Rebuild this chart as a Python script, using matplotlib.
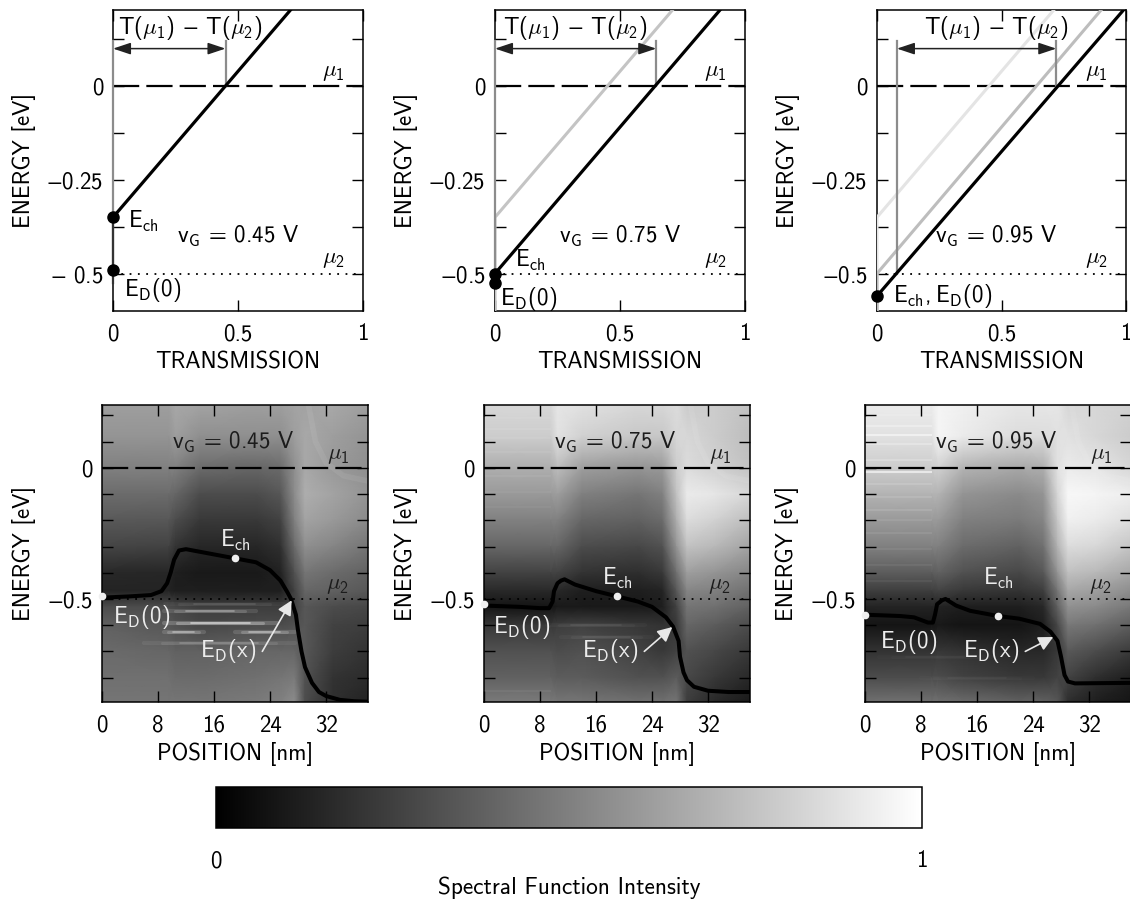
import numpy as np
import matplotlib
matplotlib.use('Agg')
import matplotlib.pyplot as plt
from matplotlib.cm import ScalarMappable
from matplotlib.colors import Normalize

plt.rcParams['font.family'] = ['cmss10', 'DejaVu Sans']
plt.rcParams['mathtext.fontset'] = 'cm'
plt.rcParams['mathtext.default'] = 'regular'
plt.rcParams['axes.unicode_minus'] = False

W, H = 1130, 899
FS = 16.5

# top row: transmission lines
e_top = 0.203
ech = [-0.35, -0.50, -0.56]
ed0 = [-0.49, -0.525, -0.56]
t_mu1 = [0.45, 0.645, 0.72]
t_mu2 = [0.0, 0.0, 0.08]
t_top = [0.71, 0.90, 0.99]
faded_ech = [[], [-0.35], [-0.35, -0.50]]
faded_top = [[], [0.71], [0.71, 0.90]]
faded_col = [[], ['#c4c4c4'], ['#e4e4e4', '#bdbdbd']]
vg_text = ['0.45', '0.75', '0.95']

# bottom row: spectral function, grey levels read by eye
grid_x = [0, 9.5, 10.5, 14, 22, 25.5, 27.5, 29, 33, 38]
grid_e = [0.24, 0.12, 0, -0.1, -0.2, -0.3, -0.4, -0.47, -0.53, -0.6, -0.7, -0.8, -0.893]
grey_045 = [[.62, .62, .66, .64, .62, .62, .64, .64, .66, .62],
            [.58, .58, .62, .56, .56, .56, .62, .66, .62, .58],
            [.50, .50, .50, .42, .40, .42, .56, .66, .60, .56],
            [.42, .42, .40, .30, .30, .34, .55, .68, .64, .58],
            [.35, .34, .30, .22, .22, .26, .50, .64, .60, .54],
            [.27, .26, .20, .15, .15, .19, .42, .56, .52, .46],
            [.16, .15, .12, .10, .10, .13, .32, .46, .42, .38],
            [.14, .14, .12, .12, .12, .12, .26, .40, .38, .34],
            [.30, .30, .28, .24, .24, .24, .26, .34, .30, .28],
            [.38, .34, .32, .28, .30, .30, .32, .34, .26, .24],
            [.42, .40, .38, .38, .40, .40, .40, .34, .24, .20],
            [.44, .44, .42, .42, .44, .46, .48, .32, .20, .17],
            [.46, .46, .46, .46, .48, .50, .55, .30, .18, .14]]
grey_075 = [[.84, .84, .90, .88, .84, .84, .86, .80, .80, .76],
            [.80, .80, .88, .82, .78, .78, .84, .84, .80, .74],
            [.68, .68, .74, .62, .58, .60, .80, .86, .82, .76],
            [.60, .60, .62, .50, .46, .50, .76, .92, .90, .84],
            [.50, .50, .50, .40, .38, .42, .68, .86, .82, .74],
            [.40, .40, .40, .30, .28, .32, .58, .76, .72, .64],
            [.26, .26, .26, .20, .18, .22, .44, .62, .58, .52],
            [.16, .16, .16, .12, .12, .14, .34, .52, .50, .44],
            [.08, .08, .10, .10, .10, .12, .26, .46, .44, .38],
            [.22, .22, .24, .26, .22, .20, .22, .40, .36, .30],
            [.32, .32, .30, .32, .26, .22, .26, .32, .28, .22],
            [.38, .38, .36, .36, .32, .32, .36, .28, .22, .16],
            [.48, .48, .46, .46, .44, .44, .46, .24, .16, .10]]
grey_095 = [[.92, .92, .96, .94, .90, .90, .90, .84, .84, .82],
            [.88, .88, .96, .92, .86, .86, .88, .88, .84, .80],
            [.80, .80, .82, .70, .66, .68, .88, .92, .90, .84],
            [.70, .70, .70, .58, .54, .58, .84, .97, .96, .93],
            [.60, .60, .60, .50, .48, .52, .78, .94, .92, .87],
            [.50, .50, .50, .42, .38, .44, .70, .86, .84, .77],
            [.36, .36, .38, .32, .28, .34, .58, .75, .72, .65],
            [.24, .24, .26, .22, .20, .24, .46, .65, .62, .55],
            [.14, .14, .14, .12, .12, .16, .38, .57, .54, .47],
            [.08, .08, .10, .08, .08, .12, .28, .47, .44, .37],
            [.20, .20, .22, .20, .16, .16, .22, .35, .30, .23],
            [.30, .30, .30, .26, .22, .22, .26, .26, .18, .12],
            [.44, .44, .44, .42, .38, .38, .34, .18, .12, .08]]
greys = [grey_045, grey_075, grey_095]

# E_D(x) curves
pos_045 = [0, 4, 7, 8.5, 9.3, 9.8, 10.3, 11, 12, 13, 16, 19, 22, 24, 25.5, 26.5, 27, 27.7, 28, 28.5, 29, 30, 31, 32, 34, 36, 38]
ed_045 = [-.495, -.49, -.485, -.47, -.44, -.40, -.35, -.315, -.31, -.315, -.33, -.345, -.36, -.39, -.43, -.475, -.50, -.56, -.62, -.70, -.76, -.82, -.855, -.87, -.885, -.89, -.892]
pos_075 = [0, 5, 8, 9.3, 9.8, 10, 10.5, 11, 11.5, 13, 16, 19, 22, 24, 26, 27, 27.8, 28, 28.5, 29, 30, 32, 35, 38]
ed_075 = [-.525, -.53, -.535, -.535, -.51, -.47, -.44, -.43, -.425, -.445, -.47, -.49, -.51, -.53, -.57, -.605, -.66, -.72, -.78, -.81, -.835, -.85, -.855, -.855]
pos_095 = [0, 5, 7, 9, 9.7, 10, 10.3, 11, 11.5, 13, 15, 19, 22, 25, 26.5, 27.5, 28, 28.5, 29, 30, 38]
ed_095 = [-.56, -.565, -.57, -.59, -.59, -.56, -.52, -.505, -.50, -.525, -.545, -.565, -.575, -.595, -.625, -.66, -.72, -.79, -.815, -.822, -.82]
curves = [(pos_045, ed_045), (pos_075, ed_075), (pos_095, ed_095)]

ch_dot_e = [-0.345, -0.49, -0.565]
ed0_dot_e = [-0.49, -0.52, -0.56]
arrow_tip = [(27.1, -0.505), (26.9, -0.607), (26.9, -0.645)]
ed0_label_e = [-0.57, -0.607, -0.665]
ed0_label_x = [5.6, 5.4, 6.3]
ch_label_e = [-0.275, -0.42, -0.42]

# bright fringes: energy, start, end, alpha
fringes_045 = [(-0.52, 9, 26, .18), (-0.546, 8.8, 22, .5), (-0.592, 8.8, 25, .85),
               (-0.626, 8.8, 14.5, .6), (-0.626, 19, 27.5, .6), (-0.668, 6, 27.5, .28)]
fringes_075 = [(-0.60, 9, 23, .12), (-0.645, 11, 24, .12)]
fringes_095 = [(-0.72, 2, 18, .05), (-0.80, 8, 24, .06)]
fringes = [fringes_045, fringes_075, fringes_095]
# horizontal banding at the left contact: energy, alpha
bands_075 = [(0.19, .06), (0.15, .07), (0.115, .06), (0.06, .05), (-0.03, .05), (-0.09, .04),
             (-0.15, .04), (-0.85, .05)]
bands_095 = [(0.20, .12), (0.16, .3), (0.125, .5), (0.09, .25), (0.03, .2), (-0.015, .6), (-0.06, .12),
             (-0.11, .1), (-0.16, .1), (-0.2, .08), (-0.25, .08), (-0.31, .06), (-0.37, .06), (-0.43, .05)]
bands = [[], bands_075, bands_095]
streak_x = [29.5, 30.5, 32, 34.5, 38]
streak_e = [0.24, 0.10, 0.02, -0.03, -0.05]

top_left = [113, 495, 877]
top_w = [250, 250, 249]
bot_left = [102, 484, 865]

fig = plt.figure(figsize=(W / 100, H / 100), dpi=100)


def px_axes(l, t, r, b):
    return fig.add_axes([l / W, 1 - b / H, (r - l) / W, (b - t) / H])


def style(ax):
    ax.tick_params(which='both', direction='in', top=True, right=True, length=8, width=1,
                   labelsize=FS, pad=9)
    for s in ax.spines.values():
        s.set_linewidth(1.1)


for i in range(3):
    ax = px_axes(top_left[i], 10, top_left[i] + top_w[i], 311)
    ax.set_xlim(0, 1)
    ax.set_ylim(-0.6, e_top)
    style(ax)
    ax.set_xticks([0, 0.5, 1])
    ax.set_xticklabels(['0', '0.5', '1'])
    ax.set_yticks([-0.5, -0.375, -0.25, -0.125, 0, 0.125])
    first = '$-$ 0.5' if i == 0 else '$-$0.5'
    ax.set_yticklabels([first, '', '$-$0.25', '', '0', ''])
    ax.tick_params(axis='y', pad=7)
    ax.set_xlabel('TRANSMISSION', fontsize=FS, labelpad=4.5)
    ax.set_ylabel('ENERGY [eV]', fontsize=FS)
    ax.yaxis.set_label_coords(-77 / top_w[i], 0.5)

    ax.plot([0, 1], [0, 0], color='k', lw=1.6, dashes=(11.8, 3.2), zorder=2)
    ax.plot([0, 1], [-0.5, -0.5], color='k', lw=1.3, ls=(0, (1, 3.6)), zorder=2)
    for e, t, c in zip(faded_ech[i], faded_top[i], faded_col[i]):
        ax.plot([0, 0, t], [-0.6, e, e_top], color=c, lw=2.2, zorder=3)
    ax.plot([t_mu2[i], t_mu2[i]], [-0.5 if i > 0 else ed0[i], 0.12], color='#8c8c8c', lw=1.6, zorder=3,
            clip_on=False)
    ax.plot([t_mu1[i], t_mu1[i]], [0, 0.12], color='#8c8c8c', lw=1.6, zorder=3)
    ax.annotate('', xy=(t_mu2[i], 0.10), xytext=(t_mu1[i], 0.10),
                arrowprops=dict(arrowstyle='<|-|>,head_length=0.63,head_width=0.21', color='#222222', lw=1.1,
                                mutation_scale=17, shrinkA=0, shrinkB=0), zorder=4)
    ax.plot([0, t_top[i]], [ech[i], e_top], color='k', lw=2.3, zorder=5)
    if i == 0:
        ax.plot([0, 0], [-0.525, ech[i]], color='#333333', lw=1.6, zorder=5, clip_on=False)
    ax.plot([0], [ech[i]], 'o', color='k', ms=8, clip_on=False, zorder=6)
    if i < 2:
        ax.plot([0], [ed0[i]], 'o', color='k', ms=8, clip_on=False, zorder=6)

    tx = [0.31, 0.32, 0.48][i]
    ax.text(tx, 0.155, r'T($\mathit{\mu}_1$) $-$ T($\mathit{\mu}_2$)', fontsize=FS, ha='center', va='center', zorder=7)
    ax.text(0.88, 0.037, r'$\mathit{\mu}_1$', fontsize=FS, ha='center', va='center')
    ax.text(0.88, -0.46, r'$\mathit{\mu}_2$', fontsize=FS, ha='center', va='center')
    vx = [0.50, 0.50, 0.48][i]
    ax.text(vx, -0.40, r'$v_G$ = %s V' % vg_text[i], fontsize=FS, ha='center', va='center')
    if i == 0:
        ax.text(0.06, -0.36, r'$E_{ch}$', fontsize=FS, va='center')
        ax.text(0.045, -0.545, r'$E_D$(0)', fontsize=FS, va='center')
    elif i == 1:
        ax.text(0.08, -0.465, r'$E_{ch}$', fontsize=FS, va='center')
        ax.text(0.02, -0.567, r'$E_D$(0)', fontsize=FS, va='center')
    else:
        ax.text(0.065, -0.56, r'$E_{ch},E_D$(0)', fontsize=FS, va='center')

    # spectral function below
    ax = px_axes(bot_left[i], 405, bot_left[i] + 266, 702)
    ax.pcolormesh(grid_x, grid_e, np.array(greys[i]), cmap='gray', vmin=0, vmax=1,
                  shading='gouraud', rasterized=True, zorder=0)
    for e, x0, x1, a in fringes[i]:
        span = (x1 - x0) * 0.12
        ax.plot([x0, x1], [e, e], color='w', lw=3.0, alpha=a * 0.22, solid_capstyle='round', zorder=1)
        ax.plot([x0 + span, x1 - span], [e, e], color='w', lw=2.2, alpha=a * 0.3, solid_capstyle='round', zorder=1)
        ax.plot([x0 + 2 * span, x1 - 2 * span], [e, e], color='w', lw=1.2, alpha=a * 0.6, solid_capstyle='round', zorder=1)
    for e, a in bands[i]:
        ax.plot([0, 9.5], [e, e], color='w', lw=1.5, alpha=a, solid_capstyle='butt', zorder=1)
    ax.plot(streak_x, streak_e, color='w', lw=4, alpha=0.07, zorder=1)
    ax.set_xlim(0, 38)
    ax.set_ylim(-0.893, 0.24)
    style(ax)
    ax.set_xticks([0, 8, 16, 24, 32])
    ax.set_xticklabels(['0', '8', '16', '24', '32'])
    ax.set_yticks([-0.8, -0.7, -0.6, -0.5, -0.4, -0.3, -0.2, -0.1, 0, 0.1, 0.2])
    ax.set_yticklabels(['', '', '', '$-$0.5', '', '', '', '', '0', '', ''])
    ax.tick_params(axis='y', pad=7)
    ax.set_xlabel('POSITION [nm]', fontsize=FS, labelpad=4)
    ax.set_ylabel('ENERGY [eV]', fontsize=FS)
    ax.yaxis.set_label_coords(-66 / 266, 0.5)

    ax.plot([0, 38], [0, 0], color='k', lw=1.6, dashes=(11.8, 3.2), zorder=2)
    ax.plot([0, 38], [-0.5, -0.5], color='k', lw=1.3, ls=(0, (1, 3.6)), zorder=2)
    ax.plot(curves[i][0], curves[i][1], color='k', lw=2.9, zorder=3, solid_capstyle='round')
    ax.plot([19, 0], [ch_dot_e[i], ed0_dot_e[i]], 'o', color='#f0f0f0', ms=4.5, clip_on=False, zorder=4)

    ax.text(18.7, 0.10, r'$v_G$ = %s V' % vg_text[i], fontsize=FS, ha='center', va='center', color='#1c1c1c')
    ax.text(33.7, 0.05, r'$\mathit{\mu}_1$', fontsize=FS, ha='center', va='center', color='#1c1c1c')
    ax.text(33.7, -0.445, r'$\mathit{\mu}_2$', fontsize=FS, ha='center', va='center', color='#1c1c1c')
    ax.text(19, ch_label_e[i], r'$E_{ch}$', fontsize=FS, ha='center', va='center', color='#ececec')
    ax.text(ed0_label_x[i], ed0_label_e[i], r'$E_D$(0)', fontsize=FS, ha='center', va='center', color='#ececec')
    ax.text(18, -0.70, r'$E_D$(x)', fontsize=FS, ha='center', va='center', color='#ececec')
    ax.annotate('', xy=arrow_tip[i], xytext=(22.9, -0.70),
                arrowprops=dict(arrowstyle='-|>', color='#e8e8e8', lw=1.2, mutation_scale=22,
                                shrinkA=0, shrinkB=0), zorder=4)

cax = px_axes(216, 787, 922, 828)
cb = fig.colorbar(ScalarMappable(Normalize(0, 1), cmap='gray'), cax=cax, orientation='horizontal')
cb.set_ticks([0, 1])
cb.set_ticklabels(['0', '1'])
cax.tick_params(length=0, labelsize=16.5, pad=16)
cb.outline.set_linewidth(1.1)
cb.set_label('Spectral Function Intensity', fontsize=16.8, labelpad=3)

fig.savefig('out.png', dpi=100)
